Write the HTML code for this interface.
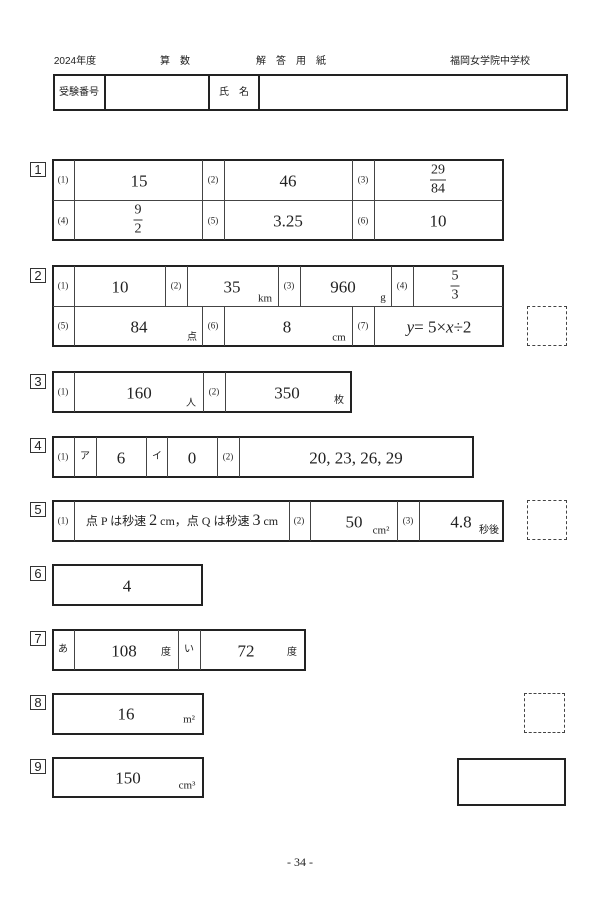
<!DOCTYPE html>
<html><head><meta charset="utf-8"><style>
*{box-sizing:border-box;margin:0;padding:0}
body{width:600px;height:900px;background:#fff;position:relative;overflow:hidden;font-family:"Liberation Serif","Noto Serif CJK SC",serif;color:#222}
.b{position:absolute;border:2px solid #222}
.v{position:absolute;width:1px;background:#444}
.h{position:absolute;height:1px;background:#444}
.t{position:absolute;white-space:nowrap;transform:translate(-50%,-50%);line-height:1}
.n{position:absolute;border:1px solid #333;width:16px;height:15px;font-size:13px;text-align:center;line-height:13px;font-family:"Liberation Sans",sans-serif}
.l{font-size:9px}
.a{font-size:17px}
.u{font-size:11px}
.s{font-family:"Liberation Sans","Noto Sans CJK JP",sans-serif;font-size:10px}
.d{position:absolute;border:1.5px dashed #444}
.fr{display:inline-block;text-align:center;font-size:14px;line-height:1}
.fr span{display:block}
.fr .top{border-bottom:1px solid #333;padding:0 1px 2px}
.fr .bot{padding-top:2px}
</style></head><body>
<!-- header -->
<div class="t s" style="left:75px;top:62px">2024年度</div>
<div class="t s" style="left:175px;top:62px">算　数</div>
<div class="t s" style="left:291px;top:62px">解　答　用　紙</div>
<div class="t s" style="left:490px;top:62px">福岡女学院中学校</div>
<div class="b" style="left:53px;top:74px;width:515px;height:37px"></div>
<div class="v" style="left:104px;top:75px;height:35px;width:2px;background:#222"></div>
<div class="v" style="left:208px;top:75px;height:35px;width:2px;background:#222"></div>
<div class="v" style="left:258px;top:75px;height:35px;width:2px;background:#222"></div>
<div class="t s" style="left:79px;top:93px">受験番号</div>
<div class="t s" style="left:234px;top:93px">氏　名</div>

<!-- 1 -->
<div class="n" style="left:30px;top:162px">1</div>
<div class="b" style="left:52px;top:159px;width:452px;height:82px"></div>
<div class="h" style="left:53px;top:200px;width:450px"></div>
<div class="v" style="left:74px;top:160px;height:80px"></div>
<div class="v" style="left:202px;top:160px;height:80px"></div>
<div class="v" style="left:224px;top:160px;height:80px"></div>
<div class="v" style="left:352px;top:160px;height:80px"></div>
<div class="v" style="left:374px;top:160px;height:80px"></div>
<div class="t l" style="left:63px;top:180px">(1)</div>
<div class="t a" style="left:139px;top:181px">15</div>
<div class="t l" style="left:213px;top:180px">(2)</div>
<div class="t a" style="left:288px;top:181px">46</div>
<div class="t l" style="left:363px;top:180px">(3)</div>
<div class="t" style="left:438px;top:180px"><div class="fr"><span class="top">29</span><span class="bot">84</span></div></div>
<div class="t l" style="left:63px;top:221px">(4)</div>
<div class="t" style="left:138px;top:220px"><div class="fr"><span class="top">9</span><span class="bot">2</span></div></div>
<div class="t l" style="left:213px;top:221px">(5)</div>
<div class="t a" style="left:288px;top:221px">3.25</div>
<div class="t l" style="left:363px;top:221px">(6)</div>
<div class="t a" style="left:438px;top:221px">10</div>

<!-- 2 -->
<div class="n" style="left:30px;top:268px">2</div>
<div class="b" style="left:52px;top:265px;width:452px;height:82px"></div>
<div class="h" style="left:53px;top:306px;width:450px"></div>
<div class="v" style="left:74px;top:266px;height:80px"></div>
<div class="v" style="left:165px;top:266px;height:40px"></div>
<div class="v" style="left:187px;top:266px;height:40px"></div>
<div class="v" style="left:278px;top:266px;height:40px"></div>
<div class="v" style="left:300px;top:266px;height:40px"></div>
<div class="v" style="left:391px;top:266px;height:40px"></div>
<div class="v" style="left:413px;top:266px;height:40px"></div>
<div class="v" style="left:202px;top:306px;height:40px"></div>
<div class="v" style="left:224px;top:306px;height:40px"></div>
<div class="v" style="left:352px;top:306px;height:40px"></div>
<div class="v" style="left:374px;top:306px;height:40px"></div>
<div class="t l" style="left:63px;top:286px">(1)</div>
<div class="t a" style="left:120px;top:287px">10</div>
<div class="t l" style="left:176px;top:286px">(2)</div>
<div class="t a" style="left:232px;top:287px">35</div>
<div class="t u" style="left:265px;top:299px">km</div>
<div class="t l" style="left:289px;top:286px">(3)</div>
<div class="t a" style="left:343px;top:287px">960</div>
<div class="t u" style="left:383px;top:298px">g</div>
<div class="t l" style="left:402px;top:286px">(4)</div>
<div class="t" style="left:455px;top:286px"><div class="fr"><span class="top">5</span><span class="bot">3</span></div></div>
<div class="t l" style="left:63px;top:326px">(5)</div>
<div class="t a" style="left:139px;top:327px">84</div>
<div class="t u s" style="left:192px;top:338px">点</div>
<div class="t l" style="left:213px;top:326px">(6)</div>
<div class="t a" style="left:287px;top:327px">8</div>
<div class="t u" style="left:339px;top:338px">cm</div>
<div class="t l" style="left:363px;top:326px">(7)</div>
<div class="t a" style="left:439px;top:327px"><i>y</i>= 5×<i>x</i>÷2</div>
<div class="d" style="left:527px;top:306px;width:40px;height:40px"></div>

<!-- 3 -->
<div class="n" style="left:30px;top:374px">3</div>
<div class="b" style="left:52px;top:371px;width:300px;height:42px"></div>
<div class="v" style="left:74px;top:372px;height:40px"></div>
<div class="v" style="left:203px;top:372px;height:40px"></div>
<div class="v" style="left:225px;top:372px;height:40px"></div>
<div class="t l" style="left:63px;top:392px">(1)</div>
<div class="t a" style="left:139px;top:393px">160</div>
<div class="t u s" style="left:191px;top:404px">人</div>
<div class="t l" style="left:214px;top:392px">(2)</div>
<div class="t a" style="left:287px;top:393px">350</div>
<div class="t u s" style="left:339px;top:401px">枚</div>

<!-- 4 -->
<div class="n" style="left:30px;top:438px">4</div>
<div class="b" style="left:52px;top:436px;width:422px;height:42px"></div>
<div class="v" style="left:74px;top:437px;height:40px"></div>
<div class="v" style="left:96px;top:437px;height:40px"></div>
<div class="v" style="left:146px;top:437px;height:40px"></div>
<div class="v" style="left:167px;top:437px;height:40px"></div>
<div class="v" style="left:217px;top:437px;height:40px"></div>
<div class="v" style="left:239px;top:437px;height:40px"></div>
<div class="t l" style="left:63px;top:457px">(1)</div>
<div class="t s" style="left:85px;top:457px">ア</div>
<div class="t a" style="left:121px;top:458px">6</div>
<div class="t s" style="left:157px;top:457px">イ</div>
<div class="t a" style="left:192px;top:458px">0</div>
<div class="t l" style="left:228px;top:457px">(2)</div>
<div class="t a" style="left:356px;top:458px">20, 23, 26, 29</div>

<!-- 5 -->
<div class="n" style="left:30px;top:502px">5</div>
<div class="b" style="left:52px;top:500px;width:452px;height:42px"></div>
<div class="v" style="left:74px;top:501px;height:40px"></div>
<div class="v" style="left:289px;top:501px;height:40px"></div>
<div class="v" style="left:310px;top:501px;height:40px"></div>
<div class="v" style="left:397px;top:501px;height:40px"></div>
<div class="v" style="left:419px;top:501px;height:40px"></div>
<div class="t l" style="left:63px;top:521px">(1)</div>
<div class="t" style="left:182px;top:521px;font-size:12px;font-family:'Liberation Serif','Noto Sans CJK JP',serif">点 P は秒速 <span style="font-size:16px">2</span> cm，点 Q は秒速 <span style="font-size:16px">3</span> cm</div>
<div class="t l" style="left:299px;top:521px">(2)</div>
<div class="t a" style="left:354px;top:522px">50</div>
<div class="t u" style="left:381px;top:531px">cm²</div>
<div class="t l" style="left:408px;top:521px">(3)</div>
<div class="t a" style="left:461px;top:522px">4.8</div>
<div class="t u s" style="left:489px;top:531px">秒後</div>
<div class="d" style="left:527px;top:500px;width:40px;height:40px"></div>

<!-- 6 -->
<div class="n" style="left:30px;top:566px">6</div>
<div class="b" style="left:52px;top:564px;width:151px;height:42px"></div>
<div class="t a" style="left:127px;top:586px">4</div>

<!-- 7 -->
<div class="n" style="left:30px;top:631px">7</div>
<div class="b" style="left:52px;top:629px;width:254px;height:42px"></div>
<div class="v" style="left:74px;top:630px;height:40px"></div>
<div class="v" style="left:178px;top:630px;height:40px"></div>
<div class="v" style="left:200px;top:630px;height:40px"></div>
<div class="t s" style="left:63px;top:650px">あ</div>
<div class="t a" style="left:124px;top:651px">108</div>
<div class="t u s" style="left:166px;top:653px">度</div>
<div class="t s" style="left:189px;top:650px">い</div>
<div class="t a" style="left:246px;top:651px">72</div>
<div class="t u s" style="left:292px;top:653px">度</div>

<!-- 8 -->
<div class="n" style="left:30px;top:695px">8</div>
<div class="b" style="left:52px;top:693px;width:152px;height:42px"></div>
<div class="t a" style="left:126px;top:714px">16</div>
<div class="t u" style="left:189px;top:720px">m²</div>
<div class="d" style="left:524px;top:693px;width:41px;height:40px"></div>

<!-- 9 -->
<div class="n" style="left:30px;top:759px">9</div>
<div class="b" style="left:52px;top:757px;width:152px;height:41px"></div>
<div class="t a" style="left:128px;top:778px">150</div>
<div class="t u" style="left:187px;top:786px">cm³</div>
<div class="b" style="left:457px;top:758px;width:109px;height:48px;border-width:2.5px"></div>

<div class="t" style="left:300px;top:862px;font-size:12px">- 34 -</div>
</body></html>
